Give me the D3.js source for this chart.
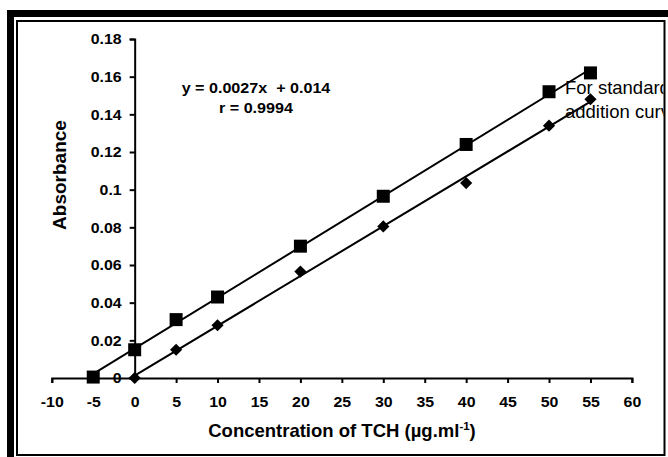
<!DOCTYPE html>
<html><head><meta charset="utf-8">
<script src="https://cdn.jsdelivr.net/npm/d3@7"></script>
<style>body{margin:0;background:#fff}svg{display:block}</style>
</head><body>
<svg id="c" width="668" height="457"></svg>
<script>
// ---- data ----
const stdX = [-5, 0, 5, 10, 20, 30, 40, 50, 55];
const stdY = [0.0005, 0.015, 0.031, 0.043, 0.070, 0.0965, 0.124, 0.152, 0.162];
const sampleX = [0, 5, 10, 20, 30, 40, 50, 55];
const sampleY = [0, 0.015, 0.028, 0.0565, 0.0805, 0.1035, 0.134, 0.148];
const xTicks = [-10, -5, 0, 5, 10, 15, 20, 25, 30, 35, 40, 45, 50, 55, 60];
const yTicks = [0, 0.02, 0.04, 0.06, 0.08, 0.1, 0.12, 0.14, 0.16, 0.18];
const yTickLabels = ["0", "0.02", "0.04", "0.06", "0.08", "0.1", "0.12", "0.14", "0.16", "0.18"];
const equationLines = ["y = 0.0027x  + 0.014", "r = 0.9994"];
const noteLines = ["For standard", "addition curve"];

const svg = d3.select("#c");
const FONT = "'Liberation Sans', Arial, sans-serif";

function stretch(sel, sx) {
  sel.each(function () {
    const t = d3.select(this);
    const tx = +t.attr("x") || 0;
    t.attr("transform", `translate(${tx},0) scale(${sx},1) translate(${-tx},0)`);
  });
}

// frame
svg.append("rect").attr("x", 7).attr("y", 10).attr("width", 700).attr("height", 500).attr("fill", "#000");
svg.append("rect").attr("x", 14).attr("y", 17).attr("width", 700).attr("height", 500).attr("fill", "#fff");
svg.append("rect").attr("x", 17).attr("y", 21).attr("width", 647.5).attr("height", 434)
  .attr("fill", "none").attr("stroke", "#000").attr("stroke-width", 2);

svg.append("clipPath").attr("id", "inner").append("rect")
  .attr("x", 18).attr("y", 22).attr("width", 645.5).attr("height", 432);

const x = d3.scaleLinear().domain([-10, 60]).range([51.8, 631.9]);
const y = d3.scaleLinear().domain([0, 0.18]).range([378, 39]);

// axes
const xAxis = svg.append("g").attr("transform", `translate(0,${y(0)})`)
  .call(d3.axisBottom(x).tickValues(xTicks).tickSize(5).tickPadding(13.5).tickFormat(d => String(d)));
const yAxis = svg.append("g").attr("transform", `translate(${x(0)},0)`)
  .call(d3.axisLeft(y).tickValues(yTicks).tickSize(5).tickPadding(8).tickFormat((d, i) => yTickLabels[i]));
[xAxis, yAxis].forEach(g => {
  g.select(".domain").attr("stroke", "#000").attr("stroke-width", 2);
  g.selectAll(".tick line").attr("stroke", "#000").attr("stroke-width", 2);
  g.selectAll("text").attr("fill", "#000").style("font-family", FONT)
    .style("font-weight", "bold").style("font-size", "15px");
  stretch(g.selectAll(".tick text"), 1.06);
});

// fit lines (least squares from the data)
function fit(xs, ys) {
  const n = xs.length, mx = d3.mean(xs), my = d3.mean(ys);
  let sxy = 0, sxx = 0;
  for (let i = 0; i < n; i++) { sxy += (xs[i] - mx) * (ys[i] - my); sxx += (xs[i] - mx) ** 2; }
  const b = sxy / sxx, a = my - b * mx;
  return [d3.min(xs), d3.max(xs)].map(v => [v, a + b * v]);
}
const line = d3.line().x(d => x(d[0])).y(d => y(d[1]));
svg.append("path").attr("d", line(fit(stdX, stdY))).attr("stroke", "#000").attr("stroke-width", 2).attr("fill", "none");
svg.append("path").attr("d", line(fit(sampleX, sampleY))).attr("stroke", "#000").attr("stroke-width", 2).attr("fill", "none");

// markers
const sq = d3.symbol().type(d3.symbolSquare).size(169);
const dm = d3.symbol().type(d3.symbolSquare).size(74);
svg.append("g").selectAll("path").data(stdX.map((v, i) => [v, stdY[i]])).join("path")
  .attr("d", sq).attr("transform", d => `translate(${x(d[0])},${y(d[1])})`).attr("fill", "#000");
svg.append("g").selectAll("path").data(sampleX.map((v, i) => [v, sampleY[i]])).join("path")
  .attr("d", dm).attr("transform", d => `translate(${x(d[0])},${y(d[1])}) rotate(45)`).attr("fill", "#000");

// equation
const eq = svg.append("g").selectAll("text").data(equationLines).join("text")
  .attr("x", 256).attr("y", (d, i) => 93 + i * 20.5).attr("text-anchor", "middle")
  .style("font-family", FONT).style("font-weight", "bold").style("font-size", "15.5px")
  .style("white-space", "pre").text(d => d);
stretch(eq, 1.04);

// note
svg.append("g").attr("clip-path", "url(#inner)").selectAll("text").data(noteLines).join("text")
  .attr("x", 565).attr("y", (d, i) => 94 + i * 24)
  .style("font-family", FONT).style("font-size", "18.5px").text(d => d);

// axis titles
const xt = svg.append("text").attr("x", 342).attr("y", 437).attr("text-anchor", "middle")
  .style("font-family", FONT).style("font-weight", "bold").style("font-size", "18.5px");
xt.append("tspan").text("Concentration of TCH (µg.ml");
xt.append("tspan").attr("dy", -7).style("font-size", "11.5px").text("-1");
xt.append("tspan").attr("dy", 7).text(")");

svg.append("text").attr("transform", "translate(66,175) rotate(-90)").attr("text-anchor", "middle")
  .style("font-family", FONT).style("font-weight", "bold").style("font-size", "19px").text("Absorbance");
</script>
</body></html>
